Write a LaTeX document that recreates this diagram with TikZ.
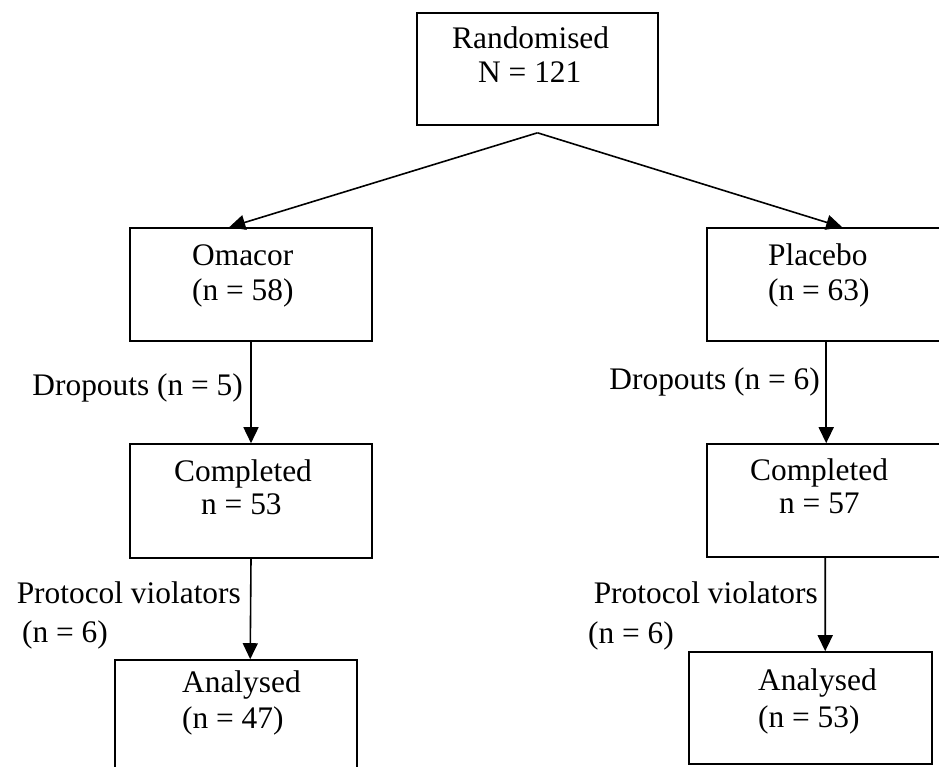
\documentclass[tikz,border=0pt]{standalone}
\usepackage{fontspec}
\setmainfont{Liberation Serif}
\usetikzlibrary{arrows.meta}
\tikzset{
  box/.style={draw=black, line width=1.6bp, rectangle, inner sep=0pt},
  txt/.style={inner sep=0pt, font=\fontsize{31.5}{36}\selectfont, anchor=base west},
  txte/.style={txt, anchor=base east},
  arr/.style={line width=1.6bp, -{Triangle[length=16bp,width=15bp]}}
}
\begin{document}
\begin{tikzpicture}[x=1bp,y=-1bp]
\useasboundingbox (0,0) rectangle (939,767);
\clip (0,0) rectangle (939,767);
\fill[white] (0,0) rectangle (939,767);

% boxes
\node[box, minimum width=241bp, minimum height=112bp] (rand) at (537.5,69) {};
\node[box, minimum width=242bp, minimum height=113bp] (omacor) at (251,284.5) {};
\node[box, minimum width=250bp, minimum height=113bp] (placebo) at (832,284.5) {};
\node[box, minimum width=242bp, minimum height=114bp] (comp1) at (251,501) {};
\node[box, minimum width=250bp, minimum height=113bp] (comp2) at (832,500.5) {};
\node[box, minimum width=242bp, minimum height=120bp] (anal1) at (236,720) {};
\node[box, minimum width=243bp, minimum height=112bp] (anal2) at (810.5,708) {};

% texts
\node[txt] (t1) at (452,49) {Randomised};
\node[txt] (t2) at (478,83) {N = 121};
\node[txt] (t3) at (192,265) {Omacor};
\node[txt] (t4) at (192,300) {(n = 58)};
\node[txt] (t5) at (768,265) {Placebo};
\node[txt] (t6) at (768,300) {(n = 63)};
\node[txte] (t7) at (243,395) {Dropouts (n = 5)};
\node[txte] (t8) at (820,389) {Dropouts (n = 6)};
\node[txt] (t9) at (174,481) {Completed};
\node[txt] (t10) at (201,514) {n = 53};
\node[txt] (t11) at (750,480) {Completed};
\node[txt] (t12) at (779,513) {n = 57};
\node[txte] (t13) at (241,603) {Protocol violators};
\node[txt] (t14) at (22,642) {(n = 6)};
\node[txte] (t15) at (818,603) {Protocol violators};
\node[txt] (t16) at (588,643) {(n = 6)};
\node[txt] (t17) at (182,692) {Analysed};
\node[txt] (t18) at (182,728) {(n = 47)};
\node[txt] (t19) at (758,690) {Analysed};
\node[txt] (t20) at (758,727) {(n = 53)};

% connectors
\coordinate (apex) at ([yshift=-7bp]rand.south);
\draw[arr] (apex) -- ([xshift=100bp]omacor.north west);
\draw[arr] (apex) -- ([xshift=136bp]placebo.north west);
\draw[arr] (omacor.south) -- (comp1.north);
\draw[arr] ([xshift=120bp]placebo.south west) -- ([xshift=120bp]comp2.north west);
\draw[arr] (comp1.south) -- ([xshift=136bp]anal1.north west);
\draw[arr] ([xshift=119bp]comp2.south west) -- ([xshift=137bp]anal2.north west);
\end{tikzpicture}
\end{document}
